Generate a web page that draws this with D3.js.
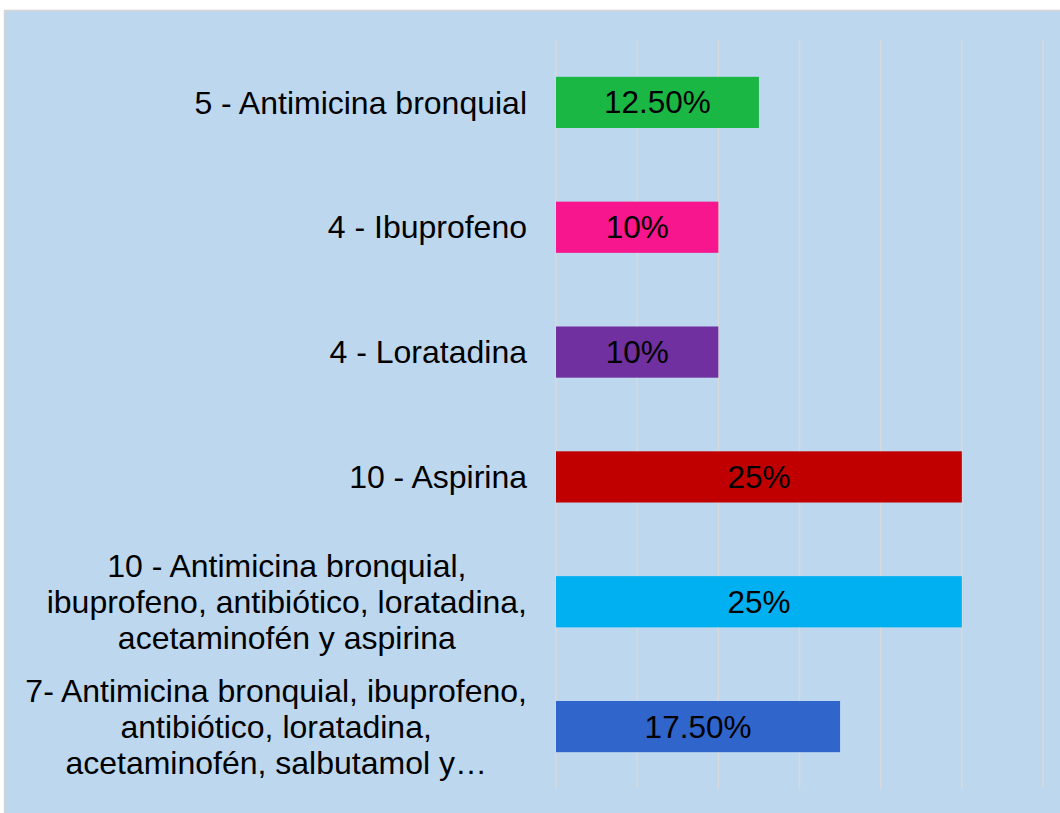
<!DOCTYPE html>
<html>
<head>
<meta charset="utf-8">
<script src="https://cdn.jsdelivr.net/npm/d3@7"></script>
<style>
  body { margin: 0; background: #ffffff; }
  text { font-family: "Liberation Sans", Arial, sans-serif; }
</style>
</head>
<body>
<div id="chart"></div>
<script>
var labels = [
  ["5 - Antimicina bronquial"],
  ["4 - Ibuprofeno"],
  ["4 - Loratadina"],
  ["10 - Aspirina"],
  ["10 - Antimicina bronquial,", "ibuprofeno, antibiótico, loratadina,", "acetaminofén y aspirina"],
  ["7- Antimicina bronquial, ibuprofeno,", "antibiótico, loratadina,", "acetaminofén, salbutamol y…"]
];
var values = [0.125, 0.10, 0.10, 0.25, 0.25, 0.175];
var valueLabels = ["12.50%", "10%", "10%", "25%", "25%", "17.50%"];
var colors = ["#1BB744", "#F7168E", "#7030A0", "#C00000", "#00B0F0", "#3065CC"];
var gridTicks = [0, 0.05, 0.10, 0.15, 0.20, 0.25, 0.30];

var width = 1060, height = 813;
var plot = {left: 556, right: 1043, top: 40, bottom: 789};

var svg = d3.select("#chart")
  .append("svg")
  .attr("width", width)
  .attr("height", height);

// chart area background
svg.append("rect")
  .attr("x", 4.5)
  .attr("y", 10.5)
  .attr("width", width)
  .attr("height", height)
  .attr("fill", "#BDD7EE")
  .attr("stroke", "#D4D4D4")
  .attr("stroke-width", 1.5);

var x = d3.scaleLinear()
  .domain([0, 0.30])
  .range([plot.left, plot.right]);

var y = d3.scaleBand()
  .domain(d3.range(values.length))
  .range([plot.top, plot.bottom])
  .paddingInner(0.59)
  .paddingOuter(0.295);

// gridlines
svg.append("g")
  .selectAll("line")
  .data(gridTicks)
  .join("line")
  .attr("x1", function(d) { return x(d); })
  .attr("x2", function(d) { return x(d); })
  .attr("y1", plot.top)
  .attr("y2", plot.bottom)
  .attr("stroke", "#D9D9D9")
  .attr("stroke-width", 1.5);

// bars
svg.append("g")
  .selectAll("rect")
  .data(values)
  .join("rect")
  .attr("x", x(0))
  .attr("y", function(d, i) { return y(i); })
  .attr("width", function(d) { return x(d) - x(0); })
  .attr("height", y.bandwidth())
  .attr("fill", function(d, i) { return colors[i]; });

// value labels
svg.append("g")
  .selectAll("text")
  .data(values)
  .join("text")
  .attr("x", function(d) { return (x(0) + x(d)) / 2; })
  .attr("y", function(d, i) { return y(i) + y.bandwidth() / 2; })
  .attr("dy", "0.35em")
  .attr("text-anchor", "middle")
  .attr("font-size", 31.5)
  .attr("fill", "#000")
  .text(function(d, i) { return valueLabels[i]; });

// category labels, right aligned block, lines centred within the block
var labelRight = plot.left - 29;
var lineHeight = 36;
labels.forEach(function(lines, i) {
  var cy = y(i) + y.bandwidth() / 2;
  var g = svg.append("g");
  var texts = g.selectAll("text")
    .data(lines)
    .join("text")
    .attr("y", function(d, j) { return cy + (j - (lines.length - 1) / 2) * lineHeight; })
    .attr("dy", "0.35em")
    .attr("font-size", 32)
    .attr("fill", "#000")
    .text(function(d) { return d; });
  var maxW = 0;
  texts.each(function() { maxW = Math.max(maxW, this.getComputedTextLength()); });
  if (lines.length === 1) {
    texts.attr("x", labelRight).attr("text-anchor", "end");
  } else {
    texts.attr("x", labelRight - maxW / 2).attr("text-anchor", "middle");
  }
});
</script>
</body>
</html>
